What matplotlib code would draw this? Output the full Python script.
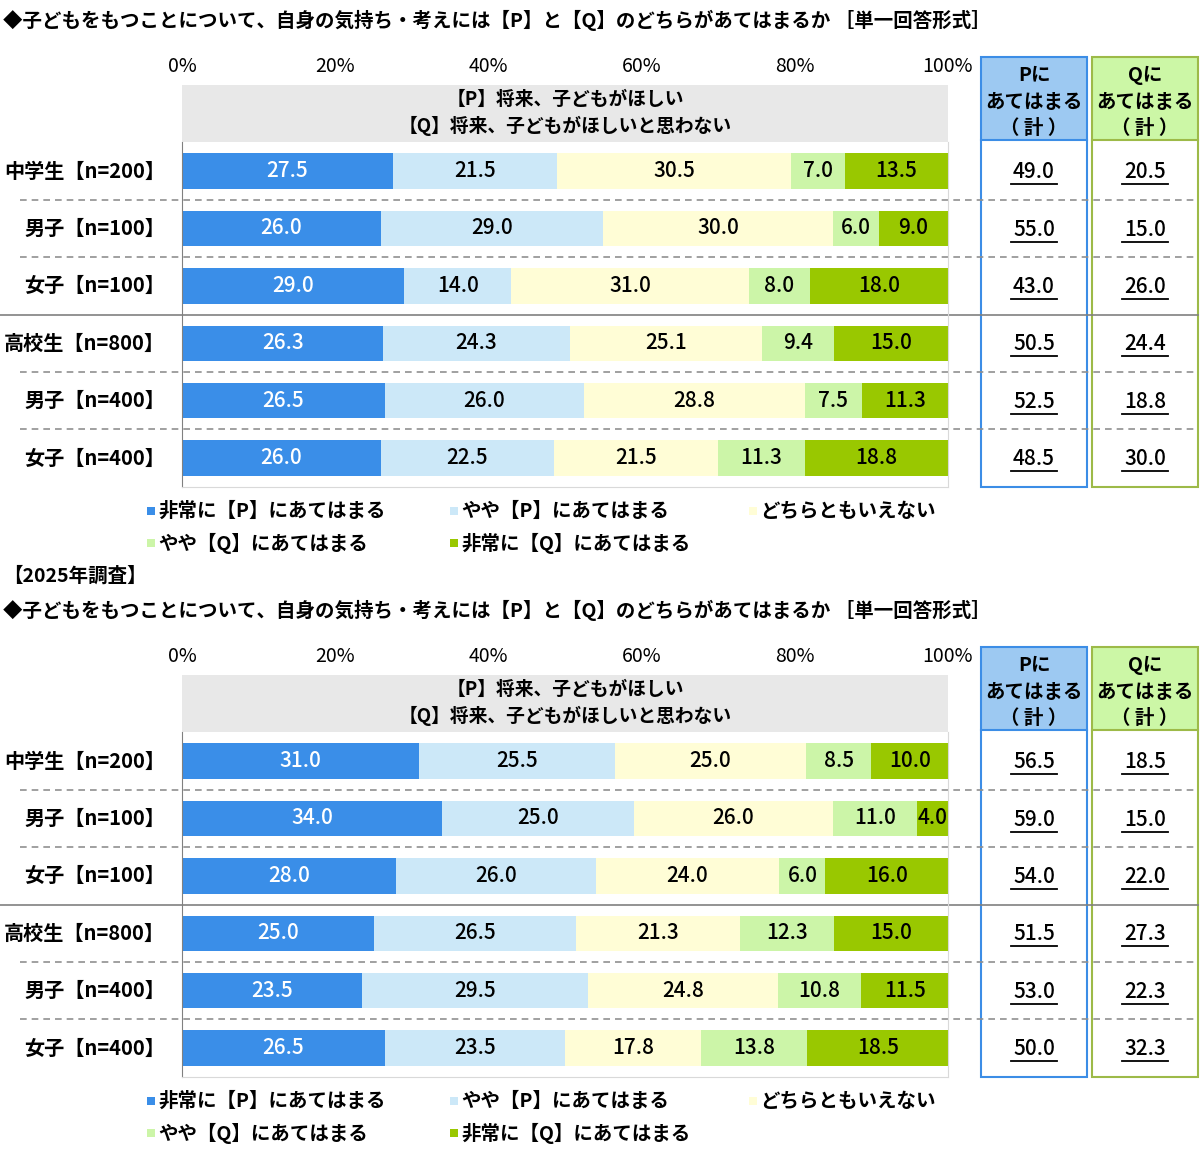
import matplotlib.pyplot as plt
from matplotlib.patches import Rectangle

plt.rcParams['font.family'] = ['Noto Sans CJK JP', 'DejaVu Sans']

# データ
groups = ['中学生【n=200】', '男子【n=100】', '女子【n=100】',
          '高校生【n=800】', '男子【n=400】', '女子【n=400】']
categories = ['非常に【P】にあてはまる', 'やや【P】にあてはまる', 'どちらともいえない',
              'やや【Q】にあてはまる', '非常に【Q】にあてはまる']
colors = ['#3A8EE8', '#CCE8F8', '#FFFDD6', '#CCF5A8', '#99C800']
ticks = [0, 20, 40, 60, 80, 100]
tick_labels = ['0%', '20%', '40%', '60%', '80%', '100%']

title = '◆子どもをもつことについて、自身の気持ち・考えには【P】と【Q】のどちらがあてはまるか ［単一回答形式］'
header1 = '【P】将来、子どもがほしい'
header2 = '【Q】将来、子どもがほしいと思わない'

# 上段
top_very_p = [27.5, 26.0, 29.0, 26.3, 26.5, 26.0]
top_some_p = [21.5, 29.0, 14.0, 24.3, 26.0, 22.5]
top_neutral = [30.5, 30.0, 31.0, 25.1, 28.8, 21.5]
top_some_q = [7.0, 6.0, 8.0, 9.4, 7.5, 11.3]
top_very_q = [13.5, 9.0, 18.0, 15.0, 11.3, 18.8]
top_p_total = [49.0, 55.0, 43.0, 50.5, 52.5, 48.5]
top_q_total = [20.5, 15.0, 26.0, 24.4, 18.8, 30.0]

# 2025年調査
new_very_p = [31.0, 34.0, 28.0, 25.0, 23.5, 26.5]
new_some_p = [25.5, 25.0, 26.0, 26.5, 29.5, 23.5]
new_neutral = [25.0, 26.0, 24.0, 21.3, 24.8, 17.8]
new_some_q = [8.5, 11.0, 6.0, 12.3, 10.8, 13.8]
new_very_q = [10.0, 4.0, 16.0, 15.0, 11.5, 18.5]
new_p_total = [56.5, 59.0, 54.0, 51.5, 53.0, 50.0]
new_q_total = [18.5, 15.0, 22.0, 27.3, 22.3, 32.3]

W, H = 1200, 1149
fig = plt.figure(figsize=(W / 100, H / 100), dpi=100)
bg = fig.add_axes([0, 0, 1, 1])
bg.set_xlim(0, W)
bg.set_ylim(H, 0)
bg.axis('off')

X0, X1 = 182, 948
ROWH = 57.4


def draw_panel(off, series, p_total, q_total):
    top = off + 85
    bottom = top + ROWH * 7
    ax = fig.add_axes([X0 / W, 1 - bottom / H, (X1 - X0) / W, (bottom - top) / H])
    ax.set_facecolor('none')
    ax.set_xlim(0, 100)
    ax.set_ylim(5.5, -1.5)
    ax.axhspan(-1.5, -0.5, color='#E8E8E8', lw=0)
    ax.text(50, -1.24, header1, ha='center', va='center', fontsize=13.5, fontweight='bold')
    ax.text(50, -0.79, header2, ha='center', va='center', fontsize=13.5, fontweight='bold')
    rows = list(range(len(groups)))
    left = [0.0] * len(groups)
    for k, vals in enumerate(series):
        ax.barh(rows, vals, left=left, height=0.62, color=colors[k], lw=0)
        for i, v in enumerate(vals):
            ax.text(left[i] + v / 2, i, f'{v:.1f}', ha='center', va='center',
                    fontsize=15, fontweight='medium', color='white' if k == 0 else 'black')
        left = [a + b for a, b in zip(left, vals)]
    ax.set_yticks([])
    ax.set_xticks(ticks)
    ax.set_xticklabels(tick_labels, fontsize=14)
    ax.xaxis.tick_top()
    ax.tick_params(axis='x', length=0, pad=6)
    ax.spines['top'].set_visible(False)
    ax.spines['left'].set_bounds(5.5, -0.5)
    ax.spines['left'].set_color('#808080')
    for s in ['right', 'bottom']:
        ax.spines[s].set_color('#D9D9D9')
    ax.spines['right'].set_bounds(5.5, -0.5)

    title_y = off + 20
    bg.text(3, title_y, title, ha='left', va='center', fontsize=14, fontweight='bold')

    row_y = [top + ROWH * (i + 1.5) for i in rows]
    for i, g in enumerate(groups):
        bg.text(165, row_y[i], g, ha='right', va='center', fontsize=14.5, fontweight='bold')
    # 区切り線
    for i in rows[:-1]:
        yb = (row_y[i] + row_y[i + 1]) / 2
        if i == 2:
            bg.plot([0, 1198], [yb, yb], color='#808080', lw=1.2)
        else:
            bg.plot([20, 1198], [yb, yb], color='#909090', lw=1.2, ls=(0, (4, 3)))

    # 合計ボックス
    box_top = off + 57
    box_bot = top + ROWH * 7
    for bx, edge, fill, head, tot in [(981, '#3C8DE6', '#9DC9F2', 'Pに', p_total),
                                      (1092, '#9DBA48', '#CCF7A6', 'Qに', q_total)]:
        bg.add_patch(Rectangle((bx, box_top), 106, 83, facecolor=fill, edgecolor='none'))
        bg.add_patch(Rectangle((bx, box_top), 106, box_bot - box_top, facecolor='none',
                               edgecolor=edge, lw=1.5))
        bg.plot([bx, bx + 106], [box_top + 83, box_top + 83], color=edge, lw=1.5)
        cx = bx + 53
        bg.text(cx, box_top + 18, head, ha='center', va='center', fontsize=14, fontweight='bold')
        bg.text(cx, box_top + 45, 'あてはまる', ha='center', va='center', fontsize=14, fontweight='bold')
        bg.text(cx, box_top + 71, '（ 計 ）', ha='center', va='center', fontsize=14, fontweight='bold')
        for i, v in enumerate(tot):
            bg.text(cx, row_y[i] + 1, f'{v:.1f}', ha='center', va='center',
                    fontsize=15, fontweight='medium')
            bg.plot([cx - 23, cx + 23], [row_y[i] + 13, row_y[i] + 13], color='black', lw=1.3)

    # 凡例
    leg_pos = [(151, 511), (454, 511), (753, 511), (151, 543), (454, 543)]
    for k, (lx, ly) in enumerate(leg_pos):
        bg.add_patch(Rectangle((lx - 4, off + ly - 4), 8, 8, facecolor=colors[k], edgecolor='none'))
        bg.text(lx + 7, off + ly, categories[k], ha='left', va='center', fontsize=14, fontweight='bold')


draw_panel(0, [top_very_p, top_some_p, top_neutral, top_some_q, top_very_q],
           top_p_total, top_q_total)
bg.text(3, 576, '【2025年調査】', ha='left', va='center', fontsize=14, fontweight='bold')
draw_panel(590, [new_very_p, new_some_p, new_neutral, new_some_q, new_very_q],
           new_p_total, new_q_total)

fig.savefig('out.png', dpi=100)
